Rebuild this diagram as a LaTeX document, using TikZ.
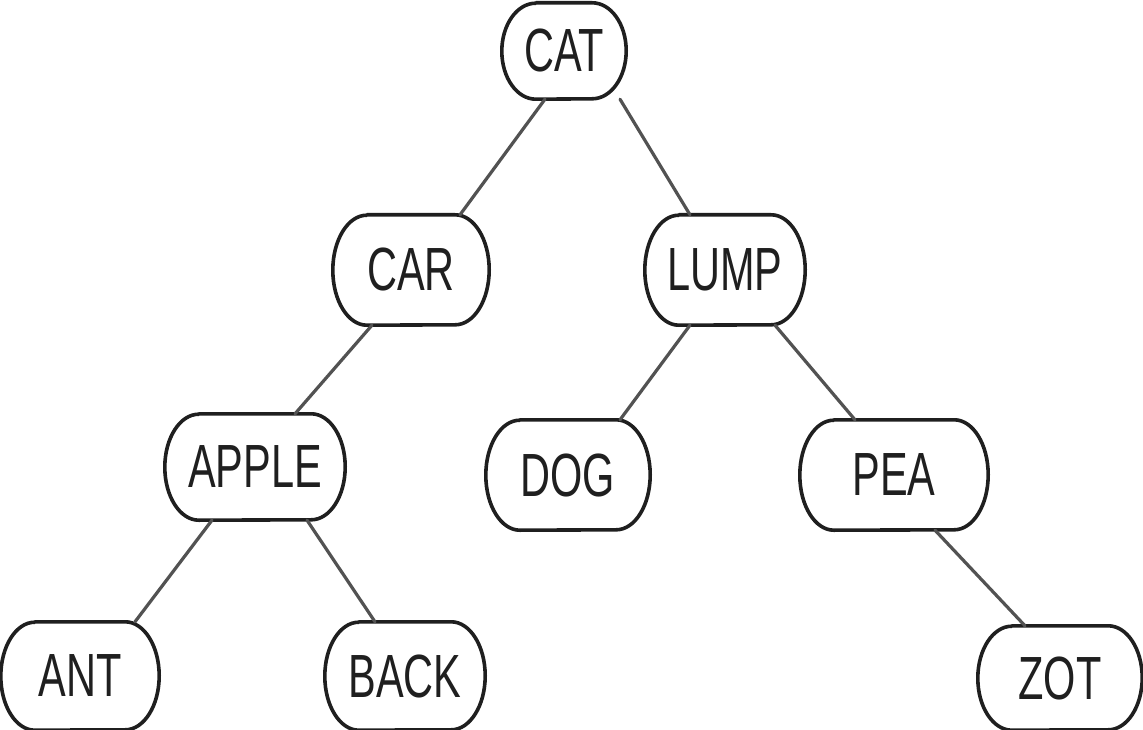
\documentclass[tikz,border=0pt]{standalone}
\usepackage{fontspec}
\newfontfamily\hand[FakeStretch=0.68]{Liberation Sans}
\begin{document}
\begin{tikzpicture}[x=1pt,y=-1pt,
  word/.style={rectangle, inner sep=0pt,
    font=\hand\fontsize{61}{61}\selectfont, text=black!88},
  rim/.style={draw=black!88, line width=3.6pt, line join=round},
  link/.style={draw=black!68, line width=3.2pt, line cap=round}]
\useasboundingbox[fill=white] (0,0) rectangle (1143,730);

% word nodes of the search tree
\node[word, minimum width=124pt, minimum height=96pt]  (cat)   at (564,51)   {CAT};
\node[word, minimum width=156pt, minimum height=110pt] (car)   at (411,270)  {CAR};
\node[word, minimum width=160pt, minimum height=110pt] (lump)  at (725,270)  {LUMP};
\node[word, minimum width=180pt, minimum height=106pt] (apple) at (255,467)  {APPLE};
\node[word, minimum width=164pt, minimum height=110pt] (dog)   at (568,475)  {DOG};
\node[word, minimum width=188pt, minimum height=110pt] (pea)   at (894,475)  {PEA};
\node[word, minimum width=158pt, minimum height=108pt] (ant)   at (80,676)   {ANT};
\node[word, minimum width=160pt, minimum height=108pt] (back)  at (405,676)  {BACK};
\node[word, minimum width=164pt, minimum height=104pt] (zot)   at (1060,678) {ZOT};

% outlines: flat top and bottom, bulging elliptic sides
\foreach \n/\h in {cat/48, car/55, lump/55, apple/53, dog/55, pea/55, ant/54, back/54, zot/52}{
  \draw[rim] ([xshift=34pt]\n.north west) -- ([xshift=-34pt]\n.north east)
    arc[start angle=90, end angle=-90, x radius=34pt, y radius=\h pt]
    -- ([xshift=34pt]\n.south west)
    arc[start angle=270, end angle=90, x radius=34pt, y radius=\h pt] -- cycle;
}

% parent-child links
\draw[link] ([xshift=-19pt]cat.south)   -- ([xshift=49pt]car.north);
\draw[link] ([xshift=56pt]cat.south)    -- ([xshift=-35pt]lump.north);
\draw[link] ([xshift=-39pt]car.south)   -- ([xshift=40pt]apple.north);
\draw[link] ([xshift=-35pt]lump.south)  -- ([xshift=52pt]dog.north);
\draw[link] ([xshift=50pt]lump.south)   -- ([xshift=-39pt]pea.north);
\draw[link] ([xshift=-43pt]apple.south) -- ([xshift=55pt]ant.north);
\draw[link] ([xshift=52pt]apple.south)  -- ([xshift=-30pt]back.north);
\draw[link] ([xshift=41pt]pea.south)    -- ([xshift=-35pt]zot.north);
\end{tikzpicture}
\end{document}
